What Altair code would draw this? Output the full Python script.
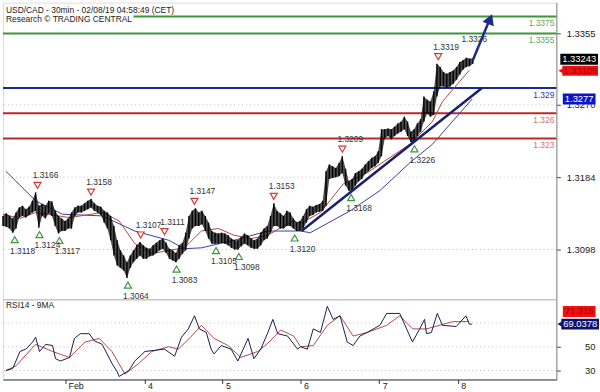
import json
import altair as alt
import pandas as pd

FONT = "Liberation Sans"
TITLE_1 = "USD/CAD - 30min - 02/08/19 04:58:49 (CET)"
TITLE_2 = "Research © TRADING CENTRAL"
RSI_TITLE = "RSI14 - 9MA"

# hourly bars (hours since start of chart)
bar_hi = [
    1.3138, 1.3141, 1.3138, 1.3135, 1.3142, 1.3148, 1.3150, 1.3146, 1.3149, 1.3156,
    1.3166, 1.3150, 1.3152, 1.3150, 1.3156, 1.3155, 1.3144, 1.3138, 1.3135, 1.3132,
    1.3135, 1.3142, 1.3148, 1.3150, 1.3150, 1.3153, 1.3156, 1.3158, 1.3153, 1.3150,
    1.3149, 1.3144, 1.3142, 1.3138, 1.3126, 1.3109, 1.3097, 1.3091, 1.3083, 1.3091,
    1.3097, 1.3103, 1.3107, 1.3103, 1.3100, 1.3099, 1.3103, 1.3106, 1.3109, 1.3111,
    1.3106, 1.3099, 1.3097, 1.3094, 1.3103, 1.3106, 1.3118, 1.3138, 1.3144, 1.3147,
    1.3142, 1.3144, 1.3138, 1.3130, 1.3120, 1.3118, 1.3117, 1.3118, 1.3117, 1.3115,
    1.3111, 1.3109, 1.3109, 1.3113, 1.3117, 1.3115, 1.3111, 1.3109, 1.3111, 1.3118,
    1.3123, 1.3126, 1.3138, 1.3153, 1.3144, 1.3141, 1.3138, 1.3144, 1.3142, 1.3135,
    1.3130, 1.3132, 1.3138, 1.3146, 1.3150, 1.3149, 1.3151, 1.3152, 1.3156, 1.3191,
    1.3199, 1.3197, 1.3195, 1.3201, 1.3209, 1.3194, 1.3179, 1.3182, 1.3189, 1.3191,
    1.3194, 1.3199, 1.3203, 1.3207, 1.3209, 1.3215, 1.3241, 1.3241, 1.3242, 1.3241,
    1.3244, 1.3248, 1.3250, 1.3256, 1.3250, 1.3238, 1.3241, 1.3248, 1.3253, 1.3280,
    1.3276, 1.3274, 1.3286, 1.3319, 1.3315, 1.3309, 1.3307, 1.3309, 1.3311, 1.3315,
    1.3321, 1.3323, 1.3326, 1.3325, 1.3325]
bar_lo = [
    1.3126, 1.3125, 1.3123, 1.3118, 1.3123, 1.3136, 1.3138, 1.3136, 1.3139, 1.3142,
    1.3144, 1.3124, 1.3138, 1.3135, 1.3141, 1.3138, 1.3126, 1.3117, 1.3120, 1.3120,
    1.3123, 1.3123, 1.3138, 1.3142, 1.3142, 1.3144, 1.3146, 1.3148, 1.3144, 1.3142,
    1.3139, 1.3130, 1.3123, 1.3109, 1.3091, 1.3079, 1.3076, 1.3073, 1.3064, 1.3076,
    1.3083, 1.3087, 1.3091, 1.3087, 1.3087, 1.3090, 1.3091, 1.3094, 1.3097, 1.3099,
    1.3094, 1.3087, 1.3085, 1.3083, 1.3087, 1.3093, 1.3097, 1.3111, 1.3123, 1.3126,
    1.3126, 1.3128, 1.3120, 1.3111, 1.3105, 1.3105, 1.3105, 1.3106, 1.3105, 1.3103,
    1.3100, 1.3098, 1.3098, 1.3102, 1.3105, 1.3103, 1.3100, 1.3099, 1.3099, 1.3103,
    1.3109, 1.3111, 1.3118, 1.3126, 1.3126, 1.3123, 1.3123, 1.3126, 1.3126, 1.3123,
    1.3120, 1.3120, 1.3123, 1.3130, 1.3138, 1.3139, 1.3142, 1.3143, 1.3144, 1.3150,
    1.3182, 1.3183, 1.3184, 1.3185, 1.3189, 1.3174, 1.3168, 1.3168, 1.3174, 1.3179,
    1.3182, 1.3188, 1.3191, 1.3195, 1.3197, 1.3201, 1.3209, 1.3230, 1.3233, 1.3229,
    1.3233, 1.3236, 1.3238, 1.3241, 1.3233, 1.3226, 1.3226, 1.3233, 1.3238, 1.3250,
    1.3260, 1.3256, 1.3258, 1.3280, 1.3292, 1.3292, 1.3290, 1.3292, 1.3295, 1.3300,
    1.3306, 1.3312, 1.3315, 1.3316, 1.3319]
bar_h = list(range(len(bar_hi)))

red_ma_x = [0, 5.2, 10, 20.4, 30.4, 35.6, 40.4, 45.6, 50.8, 55.6, 60.8, 66, 70.8, 76,
            81.2, 86, 89, 91.2, 97.3, 104.3, 111.5, 124.6, 131.6, 134.7, 142.9]
red_ma_y = [1.3140, 1.3135, 1.3142, 1.3136, 1.3142, 1.3132, 1.3105, 1.3093, 1.3097,
            1.3100, 1.3120, 1.3123, 1.3115, 1.3111, 1.3115, 1.3126, 1.3132, 1.3129,
            1.3142, 1.3176, 1.3189, 1.3223, 1.3250, 1.3274, 1.3311]
blue_ma_x = [0.9, 10, 18.2, 30.4, 40.4, 50.8, 55.6, 60.8, 70.8, 81.2, 91.2, 94.2,
             106.4, 115.5, 125.2, 131.6, 143.8]
blue_ma_y = [1.3191, 1.3156, 1.3140, 1.3138, 1.3120, 1.3109, 1.3099, 1.3100, 1.3109,
             1.3120, 1.3120, 1.3118, 1.3144, 1.3168, 1.3203, 1.3223, 1.3277]

trend_x = [91.5, 146.8]
trend_y = [1.3120, 1.3290]
arrow_x = [144.0, 149.0]
arrow_y = [1.3323, 1.3370]
head_x = [149.3]
head_y = [1.3372]

piv_x = [10.6, 27.0, 42.2, 49.5, 58.7, 83.0, 104.0, 133.4, 142.0,
         3.6, 11.2, 17.3, 38.3, 53.2, 65.3, 72.3, 89.4, 106.7, 126.1]
piv_p = [1.3166, 1.3158, 1.3107, 1.3111, 1.3147, 1.3153, 1.3209, 1.3319, 1.3326,
         1.3118, 1.3124, 1.3117, 1.3064, 1.3083, 1.3105, 1.3098, 1.3120, 1.3168, 1.3226]
piv_kind = ["H"] * 8 + ["T"] + ["L"] * 10

level_p = [1.3375, 1.3355, 1.3290, 1.3260, 1.3230]
level_text = ["1.3375", "1.3355", "1.329", "1.326", "1.323"]
level_kind = ["target", "target", "pivot", "support", "support"]
level_from = [40.0, 0, 0, 0, 0]

price_ticks = [1.3098, 1.3184, 1.3270, 1.3355]
rsi_ticks = [30, 50]
rsi_grid = [30, 50, 70]
day_pos = [19.0, 43.4, 67.3, 91.2, 115.3, 139.4]
day_lab = ["Feb", "4", "5", "6", "7", "8"]

rsi_x = [0.9, 3.0, 5.2, 7.0, 9.1, 10.0, 11.2, 13.1, 15.2, 16.1, 17.6, 20.4, 21.9, 23.7,
         26.4, 28.0, 30.4, 33.4, 35.0, 35.6, 38.6, 40.4, 43.5, 46.5, 49.5, 52.6, 54.7,
         56.8, 58.7, 60.2, 62.3, 63.8, 64.7, 66.9, 69.9, 72.0, 75.1, 76.9, 79.0, 81.2,
         82.7, 84.2, 87.2, 90.3, 91.2, 93.3, 95.1, 97.3, 99.4, 101.2, 103.3, 105.5,
         107.3, 109.4, 111.6, 115.5, 117.6, 121.6, 123.7, 125.5, 127.7, 129.2, 129.8,
         131.3, 133.1, 134.7, 138.9, 141.9, 142.9, 143.8]
rsi_v = [30, 31.7, 46, 48, 54, 58, 46, 52, 51, 40, 38, 41, 57, 61, 61, 55, 52, 36, 29,
         25, 30, 38, 46, 47, 48, 42, 58, 65, 76, 65, 62, 48, 44, 51, 48, 38, 57, 40, 48,
         62, 73, 61, 59, 48, 50, 48, 65, 62, 84, 73, 76, 54, 51, 59, 62, 68, 78, 78, 65,
         54, 65, 73, 61, 62, 78, 68, 67, 76, 69, 69.04]
rsi_ma_x = [0.9, 4.0, 10.0, 15.2, 20.4, 25.2, 29.5, 33.4, 37.4, 41.6, 45.6, 50.8, 53.8,
            57.8, 60.8, 64.7, 69.0, 72.9, 78.1, 81.2, 85.1, 89.1, 91.2, 95.1, 99.4,
            103.3, 107.3, 111.6, 117.6, 121.6, 125.5, 129.8, 133.7, 137.7, 142.9]
rsi_ma_v = [30, 34, 52, 46, 41, 54, 57, 46, 27, 36, 46, 50, 48, 59, 68, 57, 51, 41, 46,
            53, 64, 59, 50, 51, 68, 76, 59, 62, 68, 76, 65, 65, 68, 71, 71.3]

box_p = [1.33243, 1.33105, 1.3277]
box_t = ["1.33243", "1.33105", "1.3277"]
rsi_box_v = [71.315, 69.0378]
rsi_box_t = ["71.315", "69.0378"]

X_MAX = 169.6
xs = alt.Scale(domain=[0, X_MAX], nice=False, zero=False)
ys = alt.Scale(domain=[1.30390, 1.33916], nice=False, zero=False)
rs = alt.Scale(domain=[22.5, 90], nice=False, zero=False)

ax_x_main = alt.Axis(title=None, labels=False, ticks=False, grid=False,
                     domainColor="#333333")
ax_y_main = alt.Axis(title=None, orient="right", values=price_ticks, format=".4f",
                     grid=False, tickSize=4, tickColor="#444444", domainColor="#888888",
                     labelAlign="right", labelPadding=35, labelFontSize=9.5,
                     labelColor="#222222", labelFont=FONT)
lab_expr = "%s[indexof(%s, datum.value)]" % (json.dumps(day_lab), json.dumps(day_pos))
ax_x_rsi = alt.Axis(title=None, values=day_pos, labelExpr=lab_expr, tickSize=4,
                    tickColor="#333333", domainColor="#333333", labelAlign="left",
                    labelOffset=3, labelPadding=-2, labelFontSize=9,
                    labelColor="#222222", grid=False, labelFont=FONT, labelFlush=False)
ax_y_rsi = alt.Axis(title=None, orient="right", values=rsi_ticks, grid=False,
                    tickSize=4, tickColor="#444444", domainColor="#888888",
                    labelAlign="right", labelPadding=35, labelFontSize=9.5,
                    labelColor="#222222", labelFont=FONT)


def MX(f):
    return alt.X(f, type="quantitative", scale=xs, axis=ax_x_main)


def MY(f):
    return alt.Y(f, type="quantitative", scale=ys, axis=ax_y_main)


def RX(f):
    return alt.X(f, type="quantitative", scale=xs, axis=ax_x_rsi)


def RY(f):
    return alt.Y(f, type="quantitative", scale=rs, axis=ax_y_rsi)


df_bars = pd.DataFrame({"h": bar_h, "hi": bar_hi, "lo": bar_lo})
df_red = pd.DataFrame({"h": red_ma_x, "p": red_ma_y})
df_blue = pd.DataFrame({"h": blue_ma_x, "p": blue_ma_y})
df_trend = pd.DataFrame({"h": trend_x, "p": trend_y})
df_arrow = pd.DataFrame({"h": arrow_x, "p": arrow_y})
df_head = pd.DataFrame({"h": head_x, "p": head_y})
df_piv = pd.DataFrame({"h": piv_x, "p": piv_p, "k": piv_kind,
                       "t": ["%.4f" % v for v in piv_p]})
df_lev = pd.DataFrame({"p": level_p, "t": level_text, "k": level_kind,
                       "x0": level_from, "x1": [X_MAX] * len(level_p)})
df_grid = pd.DataFrame({"p": price_ticks})
df_box = pd.DataFrame({"p": box_p, "t": box_t})

grid = alt.Chart(df_grid).mark_rule(color="#bdbdbd", strokeDash=[1, 3], strokeWidth=1).encode(
    y=MY("p"))

layers = [grid]
for kind, lc, tc in [("target", "#3c963c", "#5fa85f"), ("pivot", "#1c2896", "#2a3aa6"),
                     ("support", "#b82a2a", "#d07272")]:
    base = alt.Chart(df_lev).transform_filter(alt.datum.k == kind)
    layers.append(base.mark_rule(color=lc, strokeWidth=2).encode(
        x=MX("x0"), x2=alt.X2("x1"), y=MY("p")))
    layers.append(base.mark_text(align="right", baseline="top", dx=-2, dy=3, fontSize=8.5,
                                 color=tc, font=FONT).encode(x=MX("x1"), y=MY("p"), text="t:N"))

layers += [
    alt.Chart(df_blue).mark_line(color="#3a3f9a", strokeWidth=1).encode(x=MX("h"), y=MY("p")),
    alt.Chart(df_red).mark_line(color="#b04a40", strokeWidth=1).encode(x=MX("h"), y=MY("p")),
    alt.Chart(df_bars).mark_area(color="#000000", opacity=0.7).encode(
        x=MX("h"), y=MY("lo"), y2=alt.Y2("hi")),
    alt.Chart(df_bars).mark_rule(color="#000000", strokeWidth=1.4).encode(
        x=MX("h"), y=MY("lo"), y2=alt.Y2("hi")),
    alt.Chart(df_trend).mark_line(color="#1a1f6e", strokeWidth=2.5).encode(x=MX("h"), y=MY("p")),
    alt.Chart(df_arrow).mark_line(color="#1a2a8a", strokeWidth=2.5).encode(x=MX("h"), y=MY("p")),
    alt.Chart(df_head).mark_point(shape="triangle-up", filled=True, color="#1a2a8a", size=150,
                                  angle=22, opacity=1).encode(x=MX("h"), y=MY("p")),
]

hi = alt.Chart(df_piv).transform_filter(alt.datum.k == "H")
lo = alt.Chart(df_piv).transform_filter(alt.datum.k == "L")
tx = alt.Chart(df_piv).transform_filter(alt.datum.k == "T")
layers += [
    hi.mark_point(shape="triangle-down", filled=True, fill="white", stroke="#d03c3c",
                  strokeWidth=1.2, size=50, yOffset=-7, opacity=1).encode(x=MX("h"), y=MY("p")),
    hi.mark_text(dx=8, dy=-17, fontSize=8.5, color="#333333", font=FONT).encode(
        x=MX("h"), y=MY("p"), text="t:N"),
    lo.mark_point(shape="triangle-up", filled=True, fill="white", stroke="#3a9a3a",
                  strokeWidth=1.2, size=50, yOffset=7, opacity=1).encode(x=MX("h"), y=MY("p")),
    lo.mark_text(dx=8, dy=18, fontSize=8.5, color="#333333", font=FONT).encode(
        x=MX("h"), y=MY("p"), text="t:N"),
    tx.mark_text(dx=8, dy=-19, fontSize=8.5, color="#333333", font=FONT).encode(
        x=MX("h"), y=MY("p"), text="t:N"),
]

# title
layers += [
    alt.Chart(pd.DataFrame({"t": [TITLE_1]})).mark_text(
        align="left", baseline="middle", fontSize=8.5, color="#222222", font=FONT).encode(
        x=alt.value(3), y=alt.value(7), text="t:N"),
    alt.Chart(pd.DataFrame({"t": [TITLE_2]})).mark_text(
        align="left", baseline="middle", fontSize=8.5, color="#222222", font=FONT).encode(
        x=alt.value(3), y=alt.value(17), text="t:N"),
]

# value boxes on the price axis
b0 = alt.Chart(df_box.iloc[[0]])
b1 = alt.Chart(df_box.iloc[[1]])
b2 = alt.Chart(df_box.iloc[[2]])
layers += [
    b0.mark_tick(orient="horizontal", size=38, thickness=11, color="#000000", opacity=1).encode(
        x=alt.value(581), y=MY("p")),
    b0.mark_text(fontSize=9.5, color="white", font=FONT).encode(
        x=alt.value(581), y=MY("p"), text="t:N"),
    b1.mark_tick(orient="horizontal", size=36, thickness=10, color="#ee1111", opacity=1).encode(
        x=alt.value(582), y=MY("p")),
    b1.mark_point(shape="triangle-left", filled=True, color="#ee1111", size=45, opacity=1).encode(
        x=alt.value(563), y=MY("p")),
    b1.mark_text(fontSize=9.5, color="#b00000", font=FONT).encode(
        x=alt.value(582), y=MY("p"), text="t:N"),
    b2.mark_tick(orient="horizontal", size=33, thickness=11, color="#0a14c8", opacity=1).encode(
        x=alt.value(581), y=MY("p")),
    b2.mark_text(fontSize=9.5, color="white", font=FONT).encode(
        x=alt.value(581), y=MY("p"), text="t:N"),
]

main = alt.layer(*layers).properties(width=558, height=299)

# RSI panel
df_rsi = pd.DataFrame({"h": rsi_x, "v": rsi_v})
df_rsi_ma = pd.DataFrame({"h": rsi_ma_x, "v": rsi_ma_v})
df_rgrid = pd.DataFrame({"v": rsi_grid})
df_rbox = pd.DataFrame({"v": rsi_box_v, "t": rsi_box_t})
rb0 = alt.Chart(df_rbox.iloc[[0]])
rb1 = alt.Chart(df_rbox.iloc[[1]])

rsi = alt.layer(
    alt.Chart(df_rgrid).mark_rule(color="#bdbdbd", strokeDash=[1, 3]).encode(y=RY("v")),
    alt.Chart(df_rsi_ma).mark_line(color="#b04a48", strokeWidth=1).encode(x=RX("h"), y=RY("v")),
    alt.Chart(df_rsi).mark_line(color="#1b1b50", strokeWidth=1).encode(x=RX("h"), y=RY("v")),
    alt.Chart(pd.DataFrame({"t": [RSI_TITLE]})).mark_text(
        align="left", baseline="middle", fontSize=8.5, color="#222222", font=FONT).encode(
        x=alt.value(3), y=alt.value(6), text="t:N"),
    rb0.mark_tick(orient="horizontal", size=33, thickness=11, color="#ee1111", opacity=1,
                  yOffset=-10).encode(x=alt.value(581), y=RY("v")),
    rb0.mark_text(fontSize=9.5, color="#b00000", font=FONT, yOffset=-10).encode(
        x=alt.value(581), y=RY("v"), text="t:N"),
    rb1.mark_tick(orient="horizontal", size=38, thickness=11, color="#10106e", opacity=1).encode(
        x=alt.value(582), y=RY("v")),
    rb1.mark_point(shape="triangle-left", filled=True, color="#10106e", size=45, opacity=1).encode(
        x=alt.value(562), y=RY("v")),
    rb1.mark_text(fontSize=9.5, color="white", font=FONT).encode(
        x=alt.value(582), y=RY("v"), text="t:N"),
).properties(width=558, height=81)

chart = alt.vconcat(main, rsi, spacing=0, bounds="flush", padding=0).configure_view(
    stroke=None).configure(background="white")

chart.save("out.html", embed_options={"renderer": "svg", "actions": False})
